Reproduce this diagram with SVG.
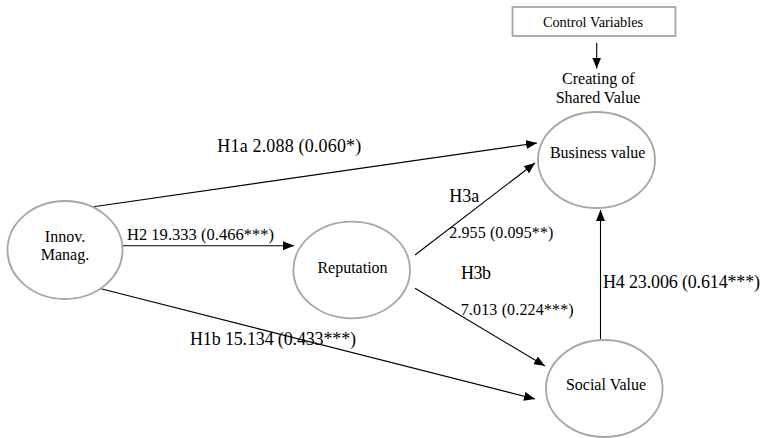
<svg xmlns="http://www.w3.org/2000/svg" width="765" height="438" viewBox="0 0 765 438" font-family="'Liberation Serif', 'DejaVu Serif', serif">
<style>
  text { font-family: 'Liberation Serif', 'DejaVu Serif', serif; fill: #000; }
  .node ellipse { fill: #fff; stroke: #a6a6a6; stroke-width: 1.8; }
  .nl { font-size: 16px; text-anchor: middle; }
  .edge { stroke: #000; stroke-width: 1.1; fill: none; marker-end: url(#arr); }
  .lbl { font-size: 18px; }
  .lbs { font-size: 16px; }
</style>
<defs>
  <marker id="arr" markerUnits="userSpaceOnUse" markerWidth="12" markerHeight="9" refX="11" refY="4.5" orient="auto">
    <path d="M0,0 L11,4.5 L0,9 z" fill="#000"/>
  </marker>
</defs>
<rect width="765" height="438" fill="#fff"/>

<g id="control-variables">
  <rect x="512.5" y="7" width="163" height="29" fill="#fff" stroke="#a6a6a6" stroke-width="1.8"/>
  <text x="593" y="26.7" style="font-size:14.3px" text-anchor="middle">Control Variables</text>
</g>

<g id="csv-label">
  <text class="nl" x="598.3" y="84.3">Creating of</text>
  <text class="nl" x="598" y="103.3">Shared Value</text>
</g>

<g id="edges">
  <line class="edge" x1="596.7" y1="43" x2="596.7" y2="68.5"/>
  <line class="edge" x1="93.5" y1="206.7" x2="537" y2="143"/>
  <line class="edge" x1="123" y1="245.7" x2="294" y2="245.7"/>
  <line class="edge" x1="415" y1="255" x2="535" y2="163"/>
  <line class="edge" x1="415" y1="288.3" x2="545" y2="366"/>
  <line class="edge" x1="100" y1="288.5" x2="535" y2="399"/>
  <line class="edge" x1="600.5" y1="339" x2="600.5" y2="210"/>
</g>

<g id="edge-labels">
  <text class="lbl" x="217.3" y="151.7" textLength="144">H1a 2.088 (0.060*)</text>
  <text x="127" y="240" style="font-size:16.5px" textLength="147">H2 19.333 (0.466***)</text>
  <text class="lbl" x="449.3" y="202" textLength="30">H3a</text>
  <text class="lbs" x="449.3" y="237.5" textLength="104">2.955 (0.095**)</text>
  <text class="lbl" x="461" y="279.3" textLength="30">H3b</text>
  <text class="lbs" x="460.7" y="315" textLength="113">7.013 (0.224***)</text>
  <text class="lbl" x="190" y="345" textLength="166">H1b 15.134 (0.433***)</text>
  <text class="lbl" x="603" y="288.3" textLength="157">H4 23.006 (0.614***)</text>
</g>

<g id="innov" class="node">
  <ellipse cx="65" cy="250" rx="57.5" ry="49"/>
  <text class="nl" x="65" y="242">Innov.</text>
  <text class="nl" x="65" y="260">Manag.</text>
</g>

<g id="reputation" class="node">
  <ellipse cx="351.7" cy="270" rx="58.3" ry="48.3"/>
  <text class="nl" x="352.5" y="273">Reputation</text>
</g>

<g id="business-value" class="node">
  <ellipse cx="596.5" cy="160" rx="58.5" ry="48"/>
  <text class="nl" x="597.7" y="157.7">Business value</text>
</g>

<g id="social-value" class="node">
  <ellipse cx="604.3" cy="388.5" rx="58.3" ry="48.5"/>
  <text class="nl" x="606" y="390">Social Value</text>
</g>
</svg>
